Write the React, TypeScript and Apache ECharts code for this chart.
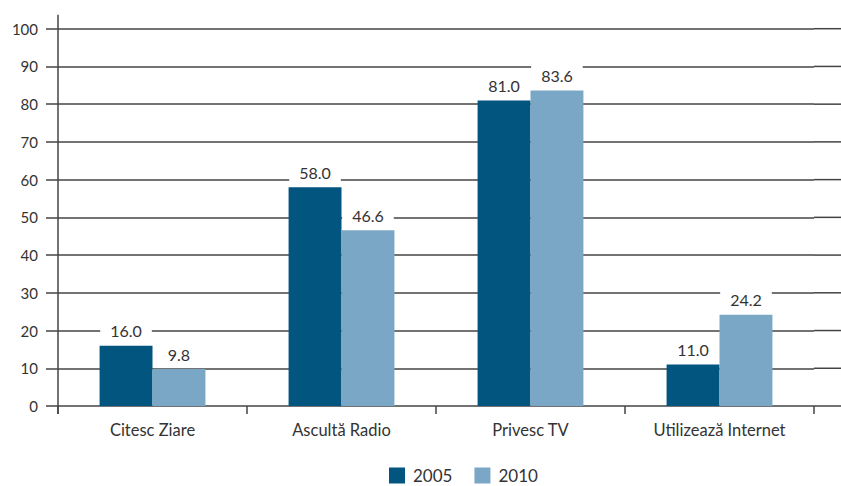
import React, { useEffect, useRef } from "react";
import * as echarts from "echarts";

const categories = ["Citesc Ziare", "Ascultă Radio", "Privesc TV", "Utilizează Internet"];
const series2005 = [16.0, 58.0, 81.0, 11.0];
const series2010 = [9.8, 46.6, 83.6, 24.2];
const yTicks = [0, 10, 20, 30, 40, 50, 60, 70, 80, 90, 100];

const FONT = "Lato, 'Noto Sans', sans-serif";
const TEXT = "#333333";
const LINE = "#444444";

export default function App() {
  const ref = useRef<HTMLDivElement>(null);
  useEffect(() => {
    if (!ref.current) return;
    const chart = echarts.init(ref.current, undefined, { renderer: "svg" });
    const label = {
      show: true,
      position: "top" as const,
      distance: 5,
      formatter: (p: any) => Number(p.value).toFixed(1),
      color: TEXT,
      fontFamily: FONT,
      fontSize: 16,
      backgroundColor: "#ffffff",
      padding: [3, 10, 2, 10],
    };
    chart.setOption({
      animation: false,
      backgroundColor: "#ffffff",
      textStyle: { fontFamily: FONT },
      grid: { left: 58, right: 27, top: 28.7, bottom: 80, containLabel: false },
      legend: {
        top: 467,
        left: 389,
        padding: 0,
        itemWidth: 16,
        itemHeight: 16,
        itemGap: 22,
        icon: "rect",
        textStyle: { color: TEXT, fontSize: 17, fontFamily: FONT, padding: [0, 0, 0, 3] },
        data: ["2005", "2010"],
      },
      xAxis: {
        type: "category",
        data: categories,
        axisLine: { show: false },
        axisTick: { show: true, length: 8, lineStyle: { color: LINE, width: 1.5 } },
        axisLabel: { color: TEXT, fontSize: 16.5, fontFamily: FONT, margin: 15 },
      },
      yAxis: {
        type: "value",
        min: 0,
        max: 100,
        interval: 10,
        axisLine: { show: false },
        axisTick: { show: true, length: 12, lineStyle: { color: LINE, width: 1.5 } },
        axisLabel: { color: TEXT, fontSize: 15, fontFamily: FONT, margin: 20 },
        splitLine: { show: true, lineStyle: { color: LINE, width: 1.5 } },
      },
      series: [
        {
          name: "2005",
          type: "bar",
          data: series2005,
          barGap: "0%",
          barCategoryGap: "44%",
          itemStyle: { color: "#01557f" },
          label,
        },
        {
          name: "2010",
          type: "bar",
          data: series2010,
          itemStyle: { color: "#7ba7c6" },
          label,
        },
      ],
    });

    // extend gridlines to the right edge and draw the y axis line via the library's scale
    const width = chart.getWidth();
    const grid: any = (chart as any).getModel().getComponent("grid", 0).coordinateSystem.getRect();
    const xRight = grid.x + grid.width;
    const yTop = chart.convertToPixel({ yAxisIndex: 0 }, 100) as number;
    const yZero = chart.convertToPixel({ yAxisIndex: 0 }, 0) as number;
    const elements: any[] = yTicks.map((v) => {
      const y = chart.convertToPixel({ yAxisIndex: 0 }, v) as number;
      return {
        type: "line",
        shape: { x1: xRight, y1: y, x2: width, y2: y },
        style: { stroke: LINE, lineWidth: 1.5 },
        silent: true,
      };
    });
    elements.push({
      type: "line",
      shape: { x1: grid.x, y1: yTop - 14, x2: grid.x, y2: yZero + 8 },
      style: { stroke: LINE, lineWidth: 1.5 },
      silent: true,
    });
    chart.setOption({ graphic: { elements } });

    return () => chart.dispose();
  }, []);
  return <div ref={ref} style={{ width: 841, height: 486, position: "absolute", left: 0, top: 0 }} />;
}
